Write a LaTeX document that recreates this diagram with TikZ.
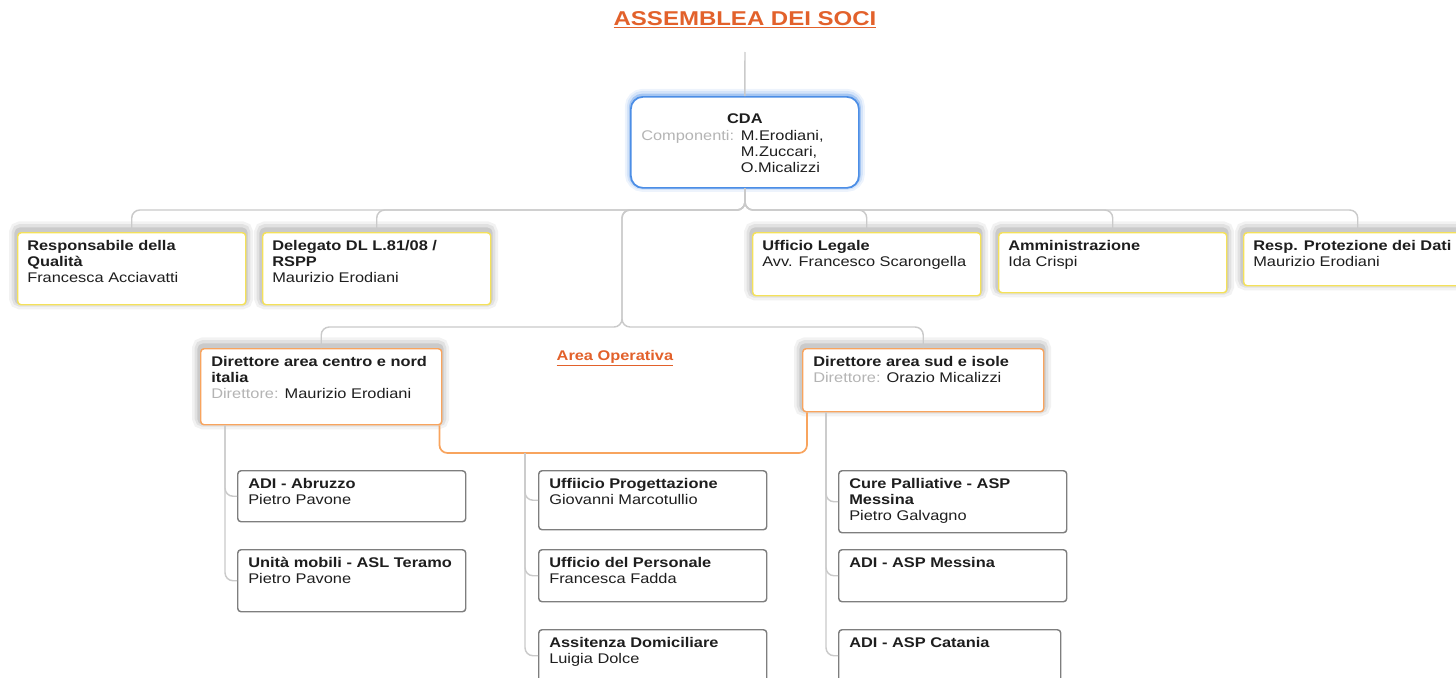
\documentclass[tikz,border=0pt]{standalone}
\usepackage{fontspec}
\setmainfont{Liberation Sans}[FakeStretch=1.17]
\newfontfamily\titlefont{Liberation Sans}[FakeStretch=1.2]
\usetikzlibrary{calc,shadows}

\definecolor{inkc}{HTML}{1E1E1E}
\definecolor{greyc}{HTML}{B4B4B4}
\definecolor{linec}{HTML}{CACACA}
\definecolor{yelc}{HTML}{F4E15A}
\definecolor{orgc}{HTML}{F8A45E}
\definecolor{bluec}{HTML}{4C8EE6}
\definecolor{frmc}{HTML}{7E7E7E}
\definecolor{titc}{HTML}{E2612B}

\tikzset{
  conn/.style={draw=linec, line width=1.1pt, rounded corners=6pt},
  oconn/.style={draw=orgc, line width=1.3pt, rounded corners=6pt},
  bx/.style 2 args={anchor=north west, inner sep=0pt, fill=white,
    minimum width=#1*0.75pt, minimum height=#2*0.75pt},
  haze/.style={
    general shadow={draw=black, line width=12pt, opacity=0.05, shadow xshift=-0.5pt, shadow yshift=2.5pt},
    general shadow={draw=black, line width=8pt, opacity=0.07, shadow xshift=-0.5pt, shadow yshift=2.5pt},
    general shadow={draw=black, line width=4pt, opacity=0.1, shadow xshift=-0.5pt, shadow yshift=2pt}},
  glow/.style={
    general shadow={draw=bluec, line width=9pt, opacity=0.1, shadow yshift=1.5pt},
    general shadow={draw=bluec, line width=6pt, opacity=0.15, shadow yshift=1.5pt},
    general shadow={draw=bluec, line width=3pt, opacity=0.35, shadow yshift=1pt}},
  ybox/.style={draw=yelc, line width=1.1pt, rounded corners=2.5pt, haze},
  obox/.style={draw=orgc, line width=1.1pt, rounded corners=2.5pt, haze},
  gbox/.style={draw=frmc, line width=1.1pt, rounded corners=2.5pt},
  cdabox/.style={draw=bluec, line width=1.3pt, rounded corners=9pt, glow},
  txt/.style={anchor=north west, inner sep=0pt, align=left, text=inkc,
    font=\fontsize{10.5}{12}\selectfont},
  head/.style={inner sep=0pt, text=titc},
}

\begin{document}
\begin{tikzpicture}[x=0.75pt,y=-0.75pt]
\useasboundingbox (0,0) rectangle (1456,678);

% Titles
\node[head, font=\titlefont\fontsize{15}{17}\selectfont] (title) at (745,20) {\underline{\textbf{ASSEMBLEA DEI SOCI}}};
\node[head, font=\fontsize{10.5}{12}\selectfont] (opslbl) at (615,358.5) {\underline{\textbf{Area Operativa}}};

% CDA
\node[bx={228}{91}, cdabox] (cda) at (630,96) {};
\node[txt, anchor=north] (cda-t) at ($(cda.north)+(0,17)$) {\textbf{CDA}};
\node[txt] (cda-c) at ($(cda.north west)+(11,33)$) {\begin{tabular}{@{}l@{\hspace{5pt}}l@{}}
  \color{greyc}Componenti: & M.Erodiani,\\ & M.Zuccari,\\ & O.Micalizzi\end{tabular}};

% first row
\node[bx={228}{72}, ybox] (qual) at (17,232) {};
\node[bx={228}{72}, ybox] (dlgt) at (262,232) {};
\node[bx={228}{63}, ybox] (legal) at (752,232) {};
\node[bx={228}{60}, ybox] (amm) at (998,232) {};
\node[bx={228}{53}, ybox] (priv) at (1243,232) {};
\node[txt] (qual-t) at ($(qual.north west)+(10,8)$) {\textbf{Responsabile della}\\\textbf{Qualità}\\Francesca Acciavatti};
\node[txt] (dlgt-t) at ($(dlgt.north west)+(10,8)$) {\textbf{Delegato DL L.81/08 /}\\\textbf{RSPP}\\Maurizio Erodiani};
\node[txt] (legal-t) at ($(legal.north west)+(10,8)$) {\textbf{Ufficio Legale}\\Avv. Francesco Scarongella};
\node[txt] (amm-t) at ($(amm.north west)+(10,8)$) {\textbf{Amministrazione}\\Ida Crispi};
\node[txt] (priv-t) at ($(priv.north west)+(10,8)$) {\textbf{Resp. Protezione dei Dati}\\Maurizio Erodiani};

% directors
\node[bx={241}{76}, obox] (dirn) at (200,348) {};
\node[bx={241}{63}, obox] (dirs) at (802,348) {};
\node[txt] (dirn-t) at ($(dirn.north west)+(11,8)$) {\textbf{Direttore area centro e nord}\\\textbf{italia}\\{\color{greyc}Direttore:} Maurizio Erodiani};
\node[txt] (dirs-t) at ($(dirs.north west)+(11,8)$) {\textbf{Direttore area sud e isole}\\{\color{greyc}Direttore:} Orazio Micalizzi};

% offices
\node[bx={228}{51}, gbox] (abr) at (237,470) {};
\node[bx={228}{62}, gbox] (tera) at (237,549) {};
\node[bx={228}{59}, gbox] (prog) at (538,470) {};
\node[bx={228}{52}, gbox] (pers) at (538,549) {};
\node[bx={228}{52}, gbox] (dom) at (538,629) {};
\node[bx={228}{62}, gbox] (cure) at (838,470) {};
\node[bx={228}{52}, gbox] (mess) at (838,549) {};
\node[bx={222}{52}, gbox] (cat) at (838,629) {};
\node[txt] (abr-t) at ($(abr.north west)+(11,8)$) {\textbf{ADI - Abruzzo}\\Pietro Pavone};
\node[txt] (tera-t) at ($(tera.north west)+(11,8)$) {\textbf{Unità mobili - ASL Teramo}\\Pietro Pavone};
\node[txt] (prog-t) at ($(prog.north west)+(11,8)$) {\textbf{Uffiicio Progettazione}\\Giovanni Marcotullio};
\node[txt] (pers-t) at ($(pers.north west)+(11,8)$) {\textbf{Ufficio del Personale}\\Francesca Fadda};
\node[txt] (dom-t) at ($(dom.north west)+(11,8)$) {\textbf{Assitenza Domiciliare}\\Luigia Dolce};
\node[txt] (cure-t) at ($(cure.north west)+(11,8)$) {\textbf{Cure Palliative - ASP}\\\textbf{Messina}\\Pietro Galvagno};
\node[txt] (mess-t) at ($(mess.north west)+(11,8)$) {\textbf{ADI - ASP Messina}};
\node[txt] (cat-t) at ($(cat.north west)+(11,8)$) {\textbf{ADI - ASP Catania}};

% connectors
\coordinate (soci) at (745,52);
\coordinate (bus) at (745,210);
\coordinate (ops) at (622,327);
\coordinate (opsmid) at (525,453);
\coordinate (lcol) at ($(dirn.south west)+(25,0)$);
\coordinate (rcol) at ($(dirs.south west)+(24,0)$);

\draw[conn] (soci) -- (cda.north);
\foreach \n in {qual,dlgt,legal,amm,priv}
  \draw[conn] (cda.south) -- (bus) -| (\n.north);
\foreach \n in {dirn,dirs}
  \draw[conn] (cda.south) -- (bus) -| (ops) -| (\n.north);
\draw[oconn] ($(dirn.south east)+(-3,0)$) |- (opsmid) -| ($(dirs.south west)+(5,0)$);
\foreach \n in {abr,tera}
  \draw[conn] (lcol) |- (\n.west);
\foreach \n in {prog,pers,dom}
  \draw[conn] (opsmid) |- (\n.west);
\foreach \n in {cure,mess,cat}
  \draw[conn] (rcol) |- (\n.west);

\end{tikzpicture}
\end{document}
